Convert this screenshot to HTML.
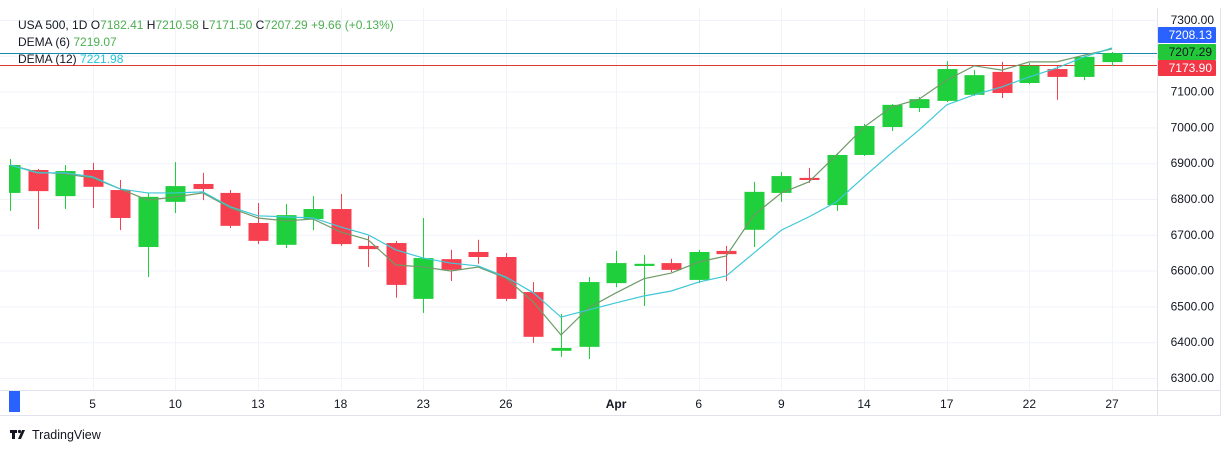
<!DOCTYPE html>
<html><head><meta charset="utf-8"><style>
html,body{margin:0;padding:0;background:#fff;width:1231px;height:452px;overflow:hidden;font-family:"Liberation Sans",sans-serif;}
svg{display:block}
</style></head><body>
<svg id="chart" width="1231" height="452" xmlns="http://www.w3.org/2000/svg" font-family="Liberation Sans, sans-serif">
<defs><clipPath id="plotclip"><rect x="9" y="8" width="1148" height="382"/></clipPath></defs>
<rect x="0" y="0" width="1231" height="452" fill="#fff"/>
<g id="grid"></g>
<g id="lines"></g>
<g id="candles" clip-path="url(#plotclip)"></g>
<g id="dema" clip-path="url(#plotclip)"></g>
<line x1="1157.5" y1="8" x2="1157.5" y2="416" stroke="#e0e3eb"/>
<line x1="0" y1="390.5" x2="1220" y2="390.5" stroke="#e0e3eb"/>
<line x1="0" y1="415.5" x2="1220" y2="415.5" stroke="#e0e3eb"/>
<line x1="1220.5" y1="8" x2="1220.5" y2="416" stroke="#e0e3eb"/>
<g id="yaxis"></g>
<g id="xaxis"></g>
<rect x="9" y="391" width="11" height="21" fill="#2962ff"/>
<g id="legend" font-size="12">
<text x="18" y="29" fill="#131722">USA 500, 1D <tspan fill="#131722">O</tspan><tspan fill="#4caf50">7182.41</tspan> <tspan fill="#131722">H</tspan><tspan fill="#4caf50">7210.58</tspan> <tspan fill="#131722">L</tspan><tspan fill="#4caf50">7171.50</tspan> <tspan fill="#131722">C</tspan><tspan fill="#4caf50">7207.29</tspan> <tspan fill="#4caf50">+9.66 (+0.13%)</tspan></text>
<text x="18" y="46" fill="#131722">DEMA (6) <tspan fill="#4caf50">7219.07</tspan></text>
<text x="18" y="63" fill="#131722">DEMA (12) <tspan fill="#26c6da">7221.98</tspan></text>
</g>
<g>
<rect x="10" y="430" width="7" height="3" fill="#131722"/><rect x="12" y="430" width="3" height="9" fill="#131722"/>
<circle cx="19.5" cy="431.5" r="1.6" fill="#131722"/><polygon points="22,430 25,430 21,439 18,439" fill="#131722"/>
<text x="32" y="439" font-size="12.5" fill="#131722">TradingView</text>
</g>
</svg>
<script>
const opens=[6817,6881,6808,6881,6825,6666,6792,6842,6817,6733,6672,6744,6772,6669,6677,6521,6632,6652,6638,6540,6376,6387,6565,6613,6621,6574,6655,6714,6817,6859,6783,6923,7001,7054,7074,7091,7155,7124,7163,7141,7182.41];
const highs=[6912,6884,6895,6901,6853,6817,6903,6873,6825,6789,6786,6808,6814,6697,6683,6747,6658,6686,6649,6568,6479,6582,6655,6644,6633,6658,6669,6848,6875,6887,6929,7010,7065,7085,7185,7160,7183,7180,7172,7202,7210.58];
const lows=[6767,6716,6772,6775,6713,6582,6761,6797,6719,6674,6663,6713,6669,6610,6524,6482,6571,6619,6515,6398,6359,6353,6554,6501,6596,6565,6571,6666,6792,6845,6767,6920,6990,7043,7071,7088,7082,7121,7077,7132,7171.50];
const closes=[6895,6822,6878,6834,6747,6806,6836,6828,6725,6683,6755,6772,6674,6660,6560,6635,6602,6638,6521,6415,6384,6568,6621,6619,6602,6652,6646,6820,6864,6853,6923,7004,7063,7079,7163,7146,7096,7172,7141,7197,7207.29];
const dema6=[6895,6875,6870,6859,6828,6797,6806,6817,6775,6747,6739,6744,6708,6686,6616,6610,6599,6610,6579,6512,6420,6496,6538,6577,6593,6624,6641,6755,6817,6848,6923,7001,7057,7079,7132,7172,7160,7183,7183,7202,7219.07];
const dema12=[6895,6873,6873,6862,6828,6817,6817,6820,6778,6753,6750,6747,6722,6700,6658,6635,6621,6613,6582,6538,6470,6490,6510,6529,6543,6568,6585,6649,6713,6750,6792,6862,6929,6993,7063,7091,7113,7141,7166,7197,7221.98];
const priceTicks=[7300,7200,7100,7000,6900,6800,6700,6600,6500,6400,6300];
const priceTickLabels=["7300.00","","7100.00","7000.00","6900.00","6800.00","6700.00","6600.00","6500.00","6400.00","6300.00"];
const timeLabels=["5","10","13","18","23","26","Apr","6","9","14","17","22","27"];
const timeLabelIndex=[3,6,9,12,15,18,22,25,28,31,34,37,40];
const markers=[{v:7208.13,c:"#2962ff",ly:35,line:"#1e88b4"},{v:7207.29,c:"#22c73a",ly:52,line:null},{v:7173.90,c:"#f23645",ly:68,line:"#e0392e"}];

const NS="http://www.w3.org/2000/svg";
const y=v=>20+(7300-v)*0.358;
const x=i=>10+i*27.55;
function mk(tag,attrs,parent){const e=document.createElementNS(NS,tag);for(const k in attrs)e.setAttribute(k,attrs[k]);parent.appendChild(e);return e;}
const grid=document.getElementById('grid');
priceTicks.forEach(v=>{const l=mk('line',{x1:0,x2:1157,y1:y(v)+.5,y2:y(v)+.5,stroke:'#f0f3fa'},grid);

});
timeLabelIndex.forEach((ix,k)=>{const gx=Math.round(x(ix))+.5;const l=mk('line',{x1:gx,x2:gx,y1:8,y2:390,stroke:'#f0f3fa'},grid);

});
const ya=document.getElementById('yaxis');
priceTicks.forEach((v,k)=>{if(!priceTickLabels[k])return;const t=mk('text',{x:1214,y:y(v)+4,'text-anchor':'end','font-size':12,fill:'#131722'},ya);t.textContent=priceTickLabels[k];

});
const xa=document.getElementById('xaxis');
timeLabels.forEach((s,k)=>{const t=mk('text',{x:x(timeLabelIndex[k]),y:408,'text-anchor':'middle','font-size':12,fill:'#131722','font-weight':s==='Apr'?'bold':'normal'},xa);t.textContent=s;

});
const ln=document.getElementById('lines');
markers.forEach(m=>{if(m.line){const yy=Math.round(y(m.v))+.5;const l=mk('line',{x1:0,x2:1157,y1:yy,y2:yy,stroke:m.line,'stroke-width':1,'shape-rendering':'crispEdges'},ln);

}
const r=mk('rect',{x:1158,y:m.ly-8,width:58,height:16,fill:m.c,rx:1},ya);


const t=mk('text',{x:1212,y:m.ly+4,'text-anchor':'end','font-size':12,fill:m.c==="#22c73a"?'#131722':'#fff'},ya);t.textContent=m.v.toFixed(2);

});
const cg=document.getElementById('candles');
opens.forEach((o,i)=>{const c=closes[i];const up=c>=o;const col=up?'#1fcf3b':'#f7404f';const cx=Math.round(x(i));
const g=mk('g',{},cg);


mk('line',{x1:cx+.5,x2:cx+.5,y1:y(highs[i]),y2:y(lows[i]),stroke:col,'stroke-width':1},g);
const top=y(Math.max(o,c)),bot=y(Math.min(o,c));
mk('rect',{x:cx-9.5,y:top,width:20,height:Math.max(2,bot-top),fill:col},g);});
const dg=document.getElementById('dema');
[[dema6,'#6f9a68','dema6-line'],[dema12,'#3fc8d8','dema12-line']].forEach(([arr,col,nm])=>{
const p=mk('polyline',{points:arr.map((v,i)=>x(i)+','+y(v)).join(' '),fill:'none',stroke:col,'stroke-width':1.2},dg);

});
</script>
</body></html>
